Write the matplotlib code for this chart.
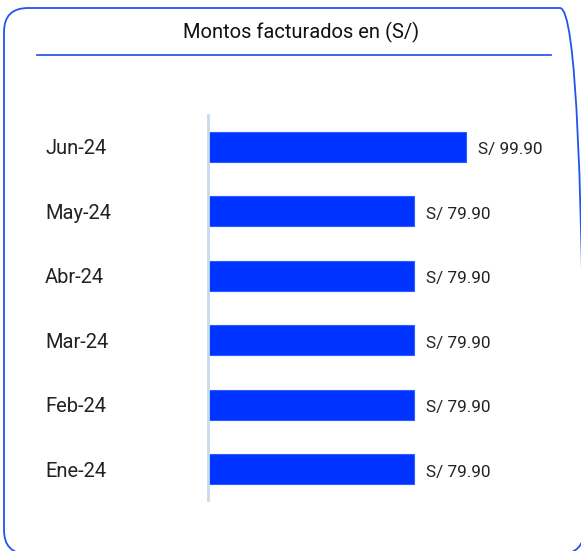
import matplotlib
matplotlib.use('Agg')
import matplotlib.pyplot as plt
from matplotlib.patches import FancyBboxPatch

plt.rcParams['font.family'] = ['Roboto', 'DejaVu Sans']

meses = ['Ene-24', 'Feb-24', 'Mar-24', 'Abr-24', 'May-24', 'Jun-24']
montos = [79.90, 79.90, 79.90, 79.90, 79.90, 99.90]

W, H = 581, 551
fig = plt.figure(figsize=(W / 100, H / 100), dpi=100)

# Fondo en pixeles (y hacia arriba) para el marco y el titulo
bg = fig.add_axes([0, 0, 1, 1])
bg.set_xlim(0, W)
bg.set_ylim(0, H)
bg.axis('off')
caja = FancyBboxPatch((4, -3), 580, H - 8 + 3, boxstyle='round,pad=0,rounding_size=24',
                      fill=False, edgecolor='#2255ee', linewidth=1.3, clip_on=False)
bg.add_patch(caja)
bg.text(301, H - 32, 'Montos facturados en (S/)', ha='center', va='center',
        fontsize=14.5, color='#111111')
bg.plot([37, 551], [H - 55, H - 55], color='#2f5bea', linewidth=1.3)

# Ejes: x de 208 a 551 px, y de 115 a 500 px
ax = fig.add_axes([208 / W, 1 - 500 / H, (551 - 208) / W, (500 - 115) / H])
ax.barh(range(len(meses)), montos, height=0.465, color='#0033ff', edgecolor='#2a5cff', linewidth=0.8)
ax.set_xlim(0, 132.8)
ax.set_ylim(-0.48, 5.49)

for i, v in enumerate(montos):
    ax.text(v + 4.5, i - 0.05, 'S/ %.2f' % v, va='center', ha='left', fontsize=12.3, color='#222222')

ax.set_yticks(range(len(meses)))
ax.set_yticklabels(meses, fontsize=14.5, color='#222222')
for lbl in ax.get_yticklabels():
    lbl.set_horizontalalignment('left')
ax.tick_params(axis='y', length=0, pad=163 * 0.72)
ax.set_xticks([])
for s in ['top', 'right', 'bottom']:
    ax.spines[s].set_visible(False)
ax.spines['left'].set_color('#c5dcee')
ax.spines['left'].set_linewidth(2)

fig.savefig('out.png', dpi=100)
